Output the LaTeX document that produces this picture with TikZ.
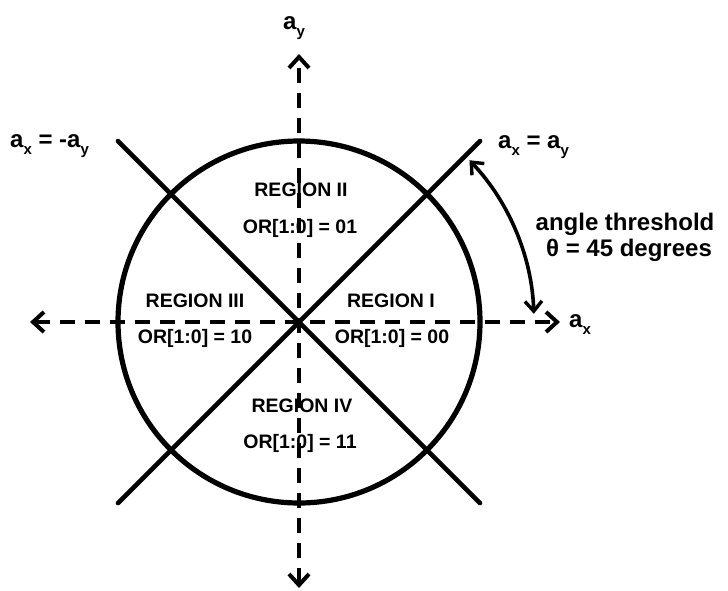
\documentclass[tikz,border=0pt]{standalone}
\usepackage{fontspec}
\setmainfont{Liberation Sans}
\usetikzlibrary{arrows.meta}
\newcommand\subx[1]{\raisebox{-7pt}{\fontsize{15}{15}\selectfont #1}}
\begin{document}
\begin{tikzpicture}[x=1pt,y=-1pt,
  axis/.style={line width=4.6pt,dash pattern=on 15pt off 10pt,{Straight Barb[length=11pt,width=20pt,line width=4pt]}-{Straight Barb[length=11pt,width=20pt,line width=4pt]}},
  diag/.style={line width=4.6pt,line cap=round},
  lbl/.style={inner sep=0pt,font=\fontsize{24}{28}\selectfont\bfseries},
  reg/.style={inner sep=0pt,anchor=base,font=\fontsize{19.5}{23}\selectfont\bfseries}]
\useasboundingbox (0,0) rectangle (728,590);
\coordinate (O) at (299,322);
\coordinate (L) at (30,322);
\coordinate (R) at (560,322);
\coordinate (T) at (299,54);
\coordinate (B) at (299,588);
\coordinate (TL) at (118,141);
\coordinate (TR) at (480,141);
\coordinate (BL) at (118,503);
\coordinate (BR) at (480,503);
% circle
\draw[line width=5.2pt] (O) circle[radius=181];
% diagonals
\draw[diag] (TL) -- (BR);
\draw[diag] (TR) -- (BL);
% axes
\draw[axis] (L) -- (R);
\draw[axis] (B) -- (T);
% angle arrow
\draw[line width=3.6pt,{Straight Barb[length=10pt,width=17pt,line width=3.4pt]}-{Straight Barb[length=10pt,width=17pt,line width=3.4pt]}]
  ([shift={(-43.5:235)}]O) arc[start angle=-43.5,end angle=-2,radius=235];
% labels
\node[lbl,anchor=base west] (ay) at (283,29) {a\subx{y}};
\node[lbl,anchor=base west] (ax) at (569,327) {a\subx{x}};
\node[lbl,anchor=base west] (eqn) at (10,147) {a\subx{x} = -a\subx{y}};
\node[lbl,anchor=base west] (eqp) at (498,148) {a\subx{x} = a\subx{y}};
\node[lbl,anchor=base] (ang) at (625,230) {angle threshold};
\node[lbl,anchor=base] (deg) at (629,256) {θ = 45 degrees};
% regions
\node[reg] (r2) at (301,196) {REGION II};
\node[reg] (o2) at (300,233) {OR[1:0] = 01};
\node[reg] (r3) at (195,307) {REGION III};
\node[reg] (o3) at (195,343) {OR[1:0] = 10};
\node[reg] (r1) at (391,307) {REGION I};
\node[reg] (o1) at (392,343) {OR[1:0] = 00};
\node[reg] (r4) at (302,412) {REGION IV};
\node[reg] (o4) at (300,448) {OR[1:0] = 11};
\end{tikzpicture}
\end{document}
